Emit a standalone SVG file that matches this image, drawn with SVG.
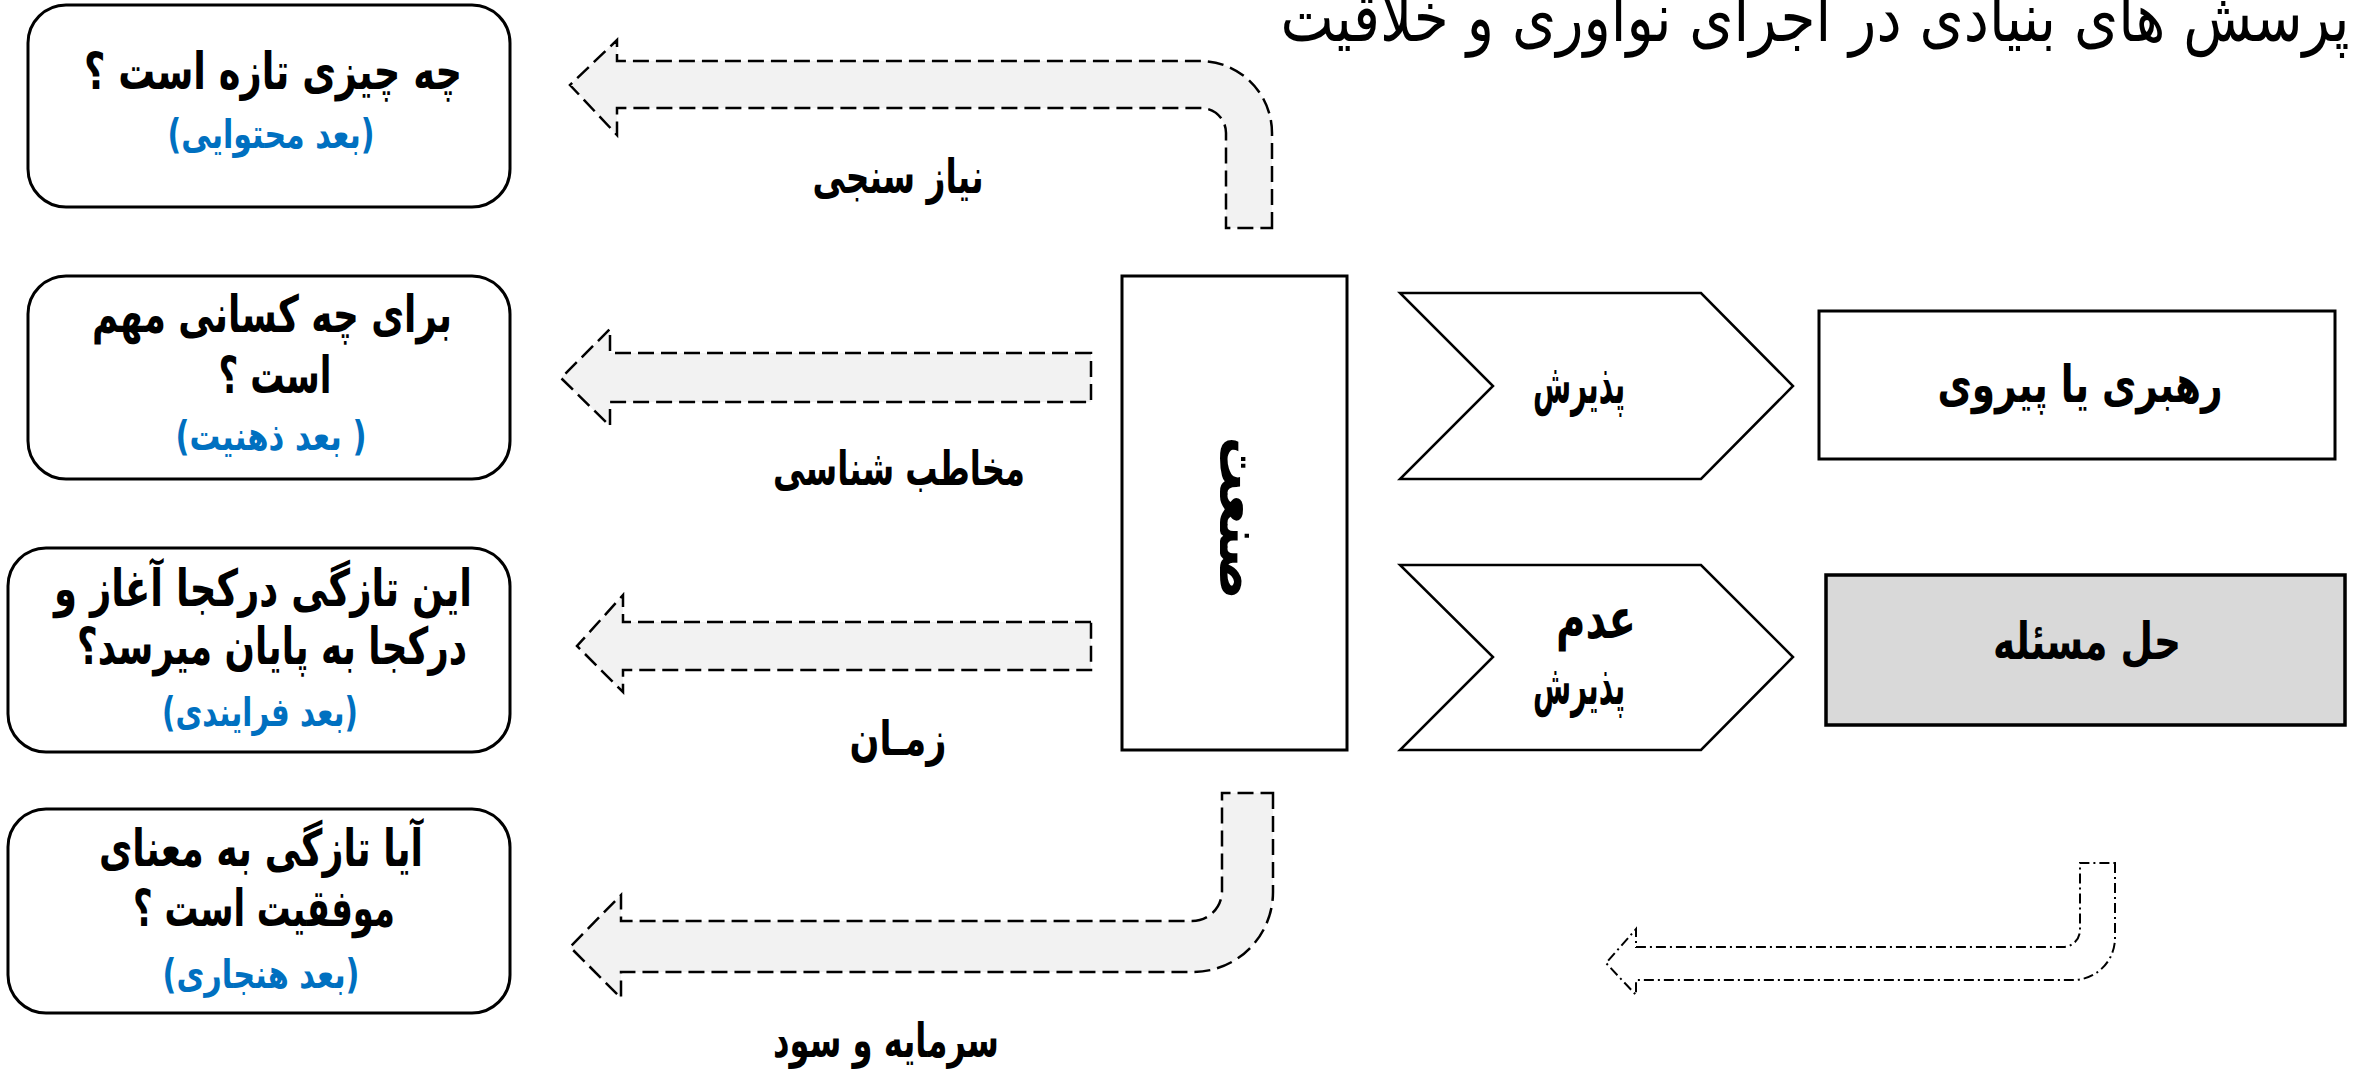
<svg xmlns="http://www.w3.org/2000/svg" width="2359" height="1070" viewBox="0 0 2359 1070">
<style>
  text { font-family: "DejaVu Sans", sans-serif; direction: rtl; text-anchor: middle; }
  .q { font-size: 51px; font-weight: bold; fill: #000; }
  .c { font-size: 56px; font-weight: bold; fill: #000; }
  .b { font-size: 40px; font-weight: bold; fill: #0070C0; }
  .lbl { font-size: 48px; font-weight: bold; fill: #000; }
  .title { font-size: 68px; font-weight: normal; fill: #000; }
  .box { fill: #fff; stroke: #000; stroke-width: 3; }
  .chev { fill: #fff; stroke: #000; stroke-width: 2.5; stroke-linejoin: miter; }
  .blk { fill: #F2F2F2; stroke: #000; stroke-width: 2.5; stroke-dasharray: 16 7; }
  .dd { fill: #fff; stroke: #000; stroke-width: 2; stroke-dasharray: 10 4 2 4; }
</style>

<text id="title" class="title" x="1815" y="41" textLength="1069" lengthAdjust="spacingAndGlyphs">پرسش های بنیادی در اجرای نوآوری و خلاقیت</text>

<g id="q1">
  <rect class="box" x="28" y="5" width="482" height="202" rx="38" ry="38"/>
  <text class="q" x="273" y="89" textLength="378" lengthAdjust="spacingAndGlyphs">چه چیزی تازه است ؟</text>
  <text class="b" x="271" y="148" textLength="207" lengthAdjust="spacingAndGlyphs">(بعد محتوایی)</text>
</g>
<g id="q2">
  <rect class="box" x="28" y="276" width="482" height="203" rx="38" ry="38"/>
  <text class="q" x="272" y="332" textLength="360" lengthAdjust="spacingAndGlyphs">برای چه کسانی مهم</text>
  <text class="q" x="275" y="393" textLength="113" lengthAdjust="spacingAndGlyphs">است ؟</text>
  <text class="b" x="271" y="450" textLength="191" lengthAdjust="spacingAndGlyphs">( بعد ذهنیت)</text>
</g>
<g id="q3">
  <rect class="box" x="8" y="548" width="502" height="204" rx="38" ry="38"/>
  <text class="q" x="263" y="606" textLength="418" lengthAdjust="spacingAndGlyphs">این تازگی درکجا آغاز و</text>
  <text class="q" x="272" y="664" textLength="390" lengthAdjust="spacingAndGlyphs">درکجا به پایان میرسد؟</text>
  <text class="b" x="260" y="726" textLength="196" lengthAdjust="spacingAndGlyphs">(بعد فرایندی)</text>
</g>
<g id="q4">
  <rect class="box" x="8" y="809" width="502" height="204" rx="38" ry="38"/>
  <text class="q" x="261" y="866" textLength="324" lengthAdjust="spacingAndGlyphs">آیا تازگی به معنای</text>
  <text class="q" x="264" y="926" textLength="262" lengthAdjust="spacingAndGlyphs">موفقیت است ؟</text>
  <text class="b" x="261" y="988" textLength="197" lengthAdjust="spacingAndGlyphs">(بعد هنجاری)</text>
</g>

<g id="industry">
  <rect class="box" x="1122" y="276" width="225" height="474"/>
  <text x="0" y="0" font-size="60" font-weight="bold" textLength="163" lengthAdjust="spacingAndGlyphs" transform="translate(1220 518) rotate(90)">صنعت</text>
</g>

<g id="accept">
  <polygon class="chev" points="1400,293 1701,293 1793,386 1701,479 1400,479 1493,386"/>
  <text class="c" x="1579" y="403" textLength="92" lengthAdjust="spacingAndGlyphs">پذیرش</text>
</g>
<g id="reject">
  <polygon class="chev" points="1400,565 1701,565 1793,657 1701,750 1400,750 1493,657"/>
  <text class="c" x="1596" y="638" textLength="80" lengthAdjust="spacingAndGlyphs">عدم</text>
  <text class="c" x="1579" y="704" textLength="92" lengthAdjust="spacingAndGlyphs">پذیرش</text>
</g>
<g id="lead">
  <rect class="box" x="1819" y="311" width="516" height="148"/>
  <text class="q" x="2080" y="402" textLength="285" lengthAdjust="spacingAndGlyphs">رهبری یا پیروی</text>
</g>
<g id="solve">
  <rect x="1826" y="575" width="519" height="150" fill="#D9D9D9" stroke="#000" stroke-width="3.5"/>
  <text class="q" x="2087" y="659" textLength="188" lengthAdjust="spacingAndGlyphs">حل مسئله</text>
</g>

<g id="connectors">
  <path class="blk" d="M1272,228 L1272,133 A72,72 0 0 0 1200,61 L617,61 L617,40 L570,85 L617,135 L617,108 L1201,108 A25,25 0 0 1 1226,133 L1226,228 Z"/>
  <path class="blk" d="M1091,353 L610,353 L610,329 L561,378 L610,426 L610,402 L1091,402 Z"/>
  <path class="blk" d="M1091,622 L623,622 L623,595 L577,646 L623,692 L623,670 L1091,670 Z"/>
  <path class="blk" d="M1273,793 L1273,892 A80,80 0 0 1 1193,972 L621,972 L621,998 L570,947 L621,895 L621,921 L1192,921 A30,30 0 0 0 1222,891 L1222,793 Z"/>
  <path class="dd" d="M2115,863 L2115,938 A42,42 0 0 1 2073,980 L1636,980 L1636,995 L1606,963 L1636,929 L1636,947 L2063,947 A17,17 0 0 0 2080,930 L2080,863 Z"/>
  <text class="lbl" x="898" y="193" textLength="171" lengthAdjust="spacingAndGlyphs">نیاز سنجی</text>
  <text class="lbl" x="899" y="485" textLength="252" lengthAdjust="spacingAndGlyphs">مخاطب شناسی</text>
  <text class="lbl" x="898" y="755" textLength="97" lengthAdjust="spacingAndGlyphs">زمـان</text>
  <text class="lbl" x="886" y="1057" textLength="226" lengthAdjust="spacingAndGlyphs">سرمایه و سود</text>
</g>
</svg>
